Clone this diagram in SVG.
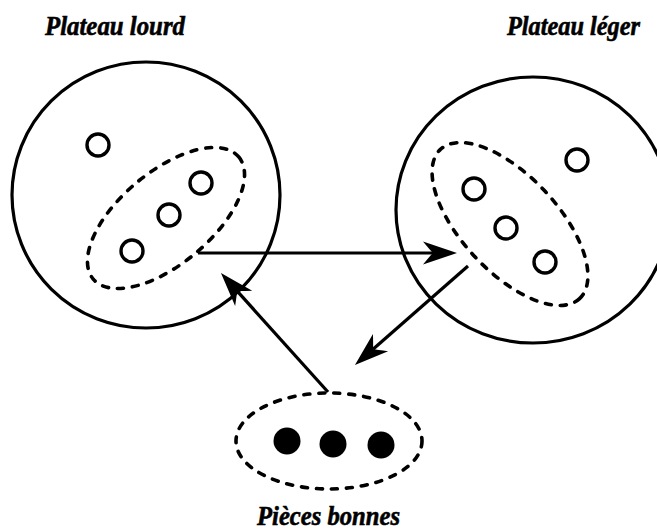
<svg xmlns="http://www.w3.org/2000/svg" width="657" height="531" viewBox="0 0 657 531">
  <style>
    .plate { fill: none; stroke: #000; stroke-width: 3.2; }
    .dash { fill: none; stroke: #000; stroke-width: 3.6; stroke-dasharray: 6 9; stroke-linecap: round; }
    .piece { fill: #fff; stroke: #000; stroke-width: 3.4; }
    .good { fill: #000; }
    .conn { fill: none; stroke: #000; stroke-width: 3.2; marker-end: url(#head); }
    .label { font-family: "Liberation Serif", "Times New Roman", serif; font-weight: bold; font-style: italic; font-size: 27px; fill: #000; stroke: #000; stroke-width: 0.6; }
  </style>
  <defs>
    <marker id="head" markerUnits="userSpaceOnUse" viewBox="-12 -13 40 26" markerWidth="40" markerHeight="26" refX="0" refY="0" orient="auto" overflow="visible">
      <path d="M24,0 L-10,-11.5 Q-3,-3 0,0 Q-3,3 -10,11.5 Z" fill="#000"/>
    </marker>
  </defs>
  <rect width="657" height="531" fill="#fff"/>

  <g id="plateau-lourd">
    <ellipse class="plate" cx="146" cy="195" rx="134" ry="133"/>
    <ellipse class="dash" cx="166" cy="218" rx="95" ry="46" transform="rotate(-40 166 218)"/>
    <circle class="piece" cx="98" cy="145" r="11"/>
    <circle class="piece" cx="201" cy="183" r="11"/>
    <circle class="piece" cx="169" cy="215" r="11"/>
    <circle class="piece" cx="132" cy="251" r="11"/>
    <text class="label" x="45" y="35" textLength="140" lengthAdjust="spacingAndGlyphs">Plateau lourd</text>
  </g>

  <g id="plateau-leger">
    <ellipse class="plate" cx="533" cy="210" rx="137" ry="133"/>
    <ellipse class="dash" cx="510" cy="224" rx="102" ry="48" transform="rotate(47 510 224)"/>
    <circle class="piece" cx="577" cy="160" r="11"/>
    <circle class="piece" cx="474" cy="189" r="11"/>
    <circle class="piece" cx="506" cy="228" r="11"/>
    <circle class="piece" cx="545" cy="262" r="11"/>
    <text class="label" x="507" y="35" textLength="133" lengthAdjust="spacingAndGlyphs">Plateau léger</text>
  </g>

  <g id="pieces-bonnes">
    <ellipse class="dash" cx="329" cy="441" rx="93" ry="48"/>
    <circle class="good" cx="287" cy="441" r="13.5"/>
    <circle class="good" cx="333" cy="444" r="13.5"/>
    <circle class="good" cx="381" cy="445" r="13.5"/>
    <text class="label" x="257" y="525" textLength="143" lengthAdjust="spacingAndGlyphs">Pièces bonnes</text>
  </g>

  <g id="connectors">
    <line class="conn" x1="198" y1="253" x2="433" y2="253"/>
    <line class="conn" x1="468" y1="266" x2="373" y2="349.2"/>
    <line class="conn" x1="328" y1="392" x2="237" y2="290.9"/>
  </g>
</svg>
